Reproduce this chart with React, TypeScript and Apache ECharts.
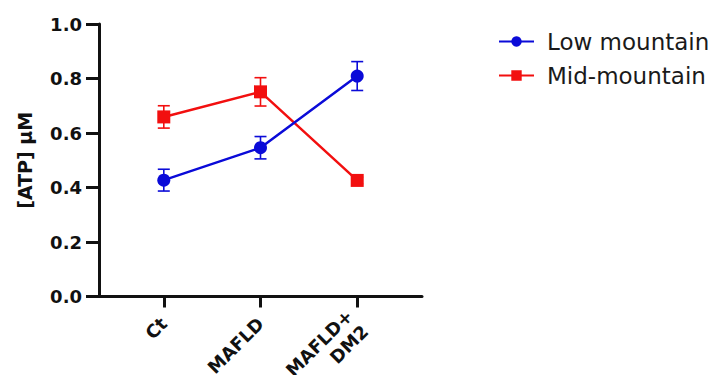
import React, { useEffect, useRef } from "react";
import * as echarts from "echarts";

const categories = ["Ct", "MAFLD", "MAFLD+\nDM2"];
const lowMountain = [0.427, 0.546, 0.809];
const lowMountainErr = [0.04, 0.041, 0.053];
const midMountain = [0.659, 0.751, 0.426];
const midMountainErr = [0.041, 0.052, 0.012];
const yTicks = [0, 0.2, 0.4, 0.6, 0.8, 1.0];

const BLUE = "#0b0bd8";
const RED = "#f20f0f";
const FONT = "DejaVu Sans";

function errorSeries(name: string, vals: number[], errs: number[], color: string, z: number) {
  return {
    type: "custom",
    name: name + "-err",
    z,
    silent: true,
    data: vals.map((v, i) => [i, v - errs[i], v + errs[i]]),
    renderItem: (params: any, api: any) => {
      const x = api.value(0);
      const lo = api.coord([x, api.value(1)]);
      const hi = api.coord([x, api.value(2)]);
      const hw = 6;
      const style = { stroke: color, lineWidth: 1.6 };
      return {
        type: "group",
        children: [
          { type: "line", shape: { x1: lo[0], y1: lo[1], x2: hi[0], y2: hi[1] }, style },
          { type: "line", shape: { x1: lo[0] - hw, y1: lo[1], x2: lo[0] + hw, y2: lo[1] }, style },
          { type: "line", shape: { x1: hi[0] - hw, y1: hi[1], x2: hi[0] + hw, y2: hi[1] }, style },
        ],
      };
    },
  };
}

export default function App() {
  const ref = useRef<HTMLDivElement>(null);
  useEffect(() => {
    const chart = echarts.init(ref.current!, null, { renderer: "svg" });
    chart.setOption({
      animation: false,
      backgroundColor: "#ffffff",
      grid: { left: 99, right: 294, top: 24, bottom: 86.5, containLabel: false, outerBoundsMode: "none" },
      legend: {
        orient: "vertical",
        left: 493,
        top: 25,
        itemWidth: 35,
        itemHeight: 13,
        itemGap: 11,
        data: ["Low mountain", "Mid-mountain"],
        textStyle: { fontFamily: FONT, fontSize: 23, color: "#1a1a1a", padding: [0, 0, 0, 8] },
      },
      xAxis: {
        type: "value",
        min: -0.67,
        max: 2.67,
        splitLine: { show: false },
        axisLine: { onZero: false, lineStyle: { color: "#111", width: 3 } },
        axisTick: { show: true, customValues: [0, 1, 2], length: 11, lineStyle: { color: "#111", width: 3 } },
        axisLabel: {
          customValues: [0, 1, 2],
          rotate: 45,
          margin: 24,
          formatter: (v: number) => categories[Math.round(v)] ?? "",
          fontFamily: FONT,
          fontWeight: "bold",
          fontSize: 18,
          color: "#111",
          lineHeight: 22,
        },
      },
      yAxis: {
        type: "value",
        min: 0,
        max: 1,
        interval: 0.2,
        name: "[ATP] µM",
        nameLocation: "middle",
        nameRotate: 90,
        nameGap: 65,
        nameTextStyle: { fontFamily: FONT, fontWeight: "bold", fontSize: 19, color: "#111" },
        splitLine: { show: false },
        axisLine: { show: true, onZero: false, lineStyle: { color: "#111", width: 3 } },
        axisTick: { show: true, length: 13, lineStyle: { color: "#111", width: 3 } },
        axisLabel: {
          customValues: yTicks,
          margin: 17,
          formatter: (v: number) => v.toFixed(1),
          fontFamily: FONT,
          fontWeight: "bold",
          fontSize: 18,
          color: "#111",
        },
      },
      series: [
        {
          name: "Low mountain",
          type: "line",
          z: 4,
          data: lowMountain.map((v, i) => [i, v]),
          symbol: "circle",
          symbolSize: 13,
          color: BLUE,
          lineStyle: { width: 2.5, color: BLUE },
          itemStyle: { color: BLUE },
        },
        {
          name: "Mid-mountain",
          type: "line",
          z: 3,
          data: midMountain.map((v, i) => [i, v]),
          symbol: "rect",
          symbolSize: 13,
          color: RED,
          lineStyle: { width: 2.5, color: RED },
          itemStyle: { color: RED },
        },
        errorSeries("Low mountain", lowMountain, lowMountainErr, BLUE, 4),
        errorSeries("Mid-mountain", midMountain, midMountainErr, RED, 3),
      ],
    });
    return () => chart.dispose();
  }, []);
  return <div ref={ref} style={{ width: 716, height: 383, margin: -8 }} />;
}
